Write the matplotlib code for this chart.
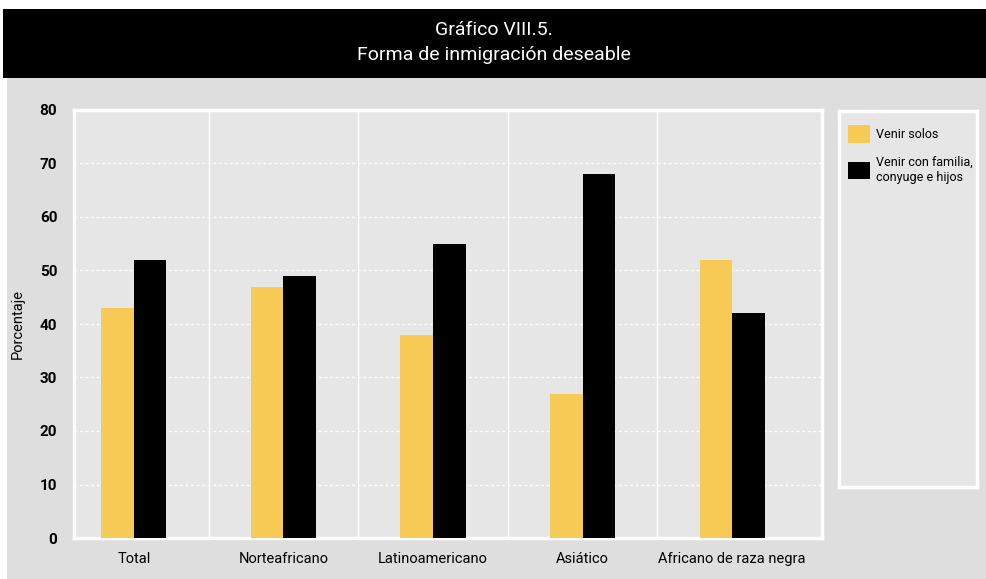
import matplotlib
matplotlib.use("Agg")
import matplotlib.pyplot as plt
from matplotlib.patches import Rectangle
import numpy as np

plt.rcParams['font.family'] = ['Roboto', 'DejaVu Sans']

categories = ["Total", "Norteafricano", "Latinoamericano", "Asiático", "Africano de raza negra"]
venir_solos = [43, 47, 38, 27, 52]
venir_familia = [52, 49, 55, 68, 42]
series_labels = ["Venir solos", "Venir con familia,\nconyuge e hijos"]
yticks = [0, 10, 20, 30, 40, 50, 60, 70, 80]
title_lines = ["Gráfico VIII.5.", "Forma de inmigración deseable"]
ylabel = "Porcentaje"

W, H = 987, 579
fig = plt.figure(figsize=(W / 100, H / 100), dpi=100)
fig.patch.set_facecolor("white")

def fx(px):
    return px / W

def fy(py):
    return 1 - py / H

# gray panel background
fig.patches.append(Rectangle((fx(7), 0), 1 - fx(7), fy(78), transform=fig.transFigure,
                             facecolor="#dedede", edgecolor="none", zorder=-5))
# black title band
fig.patches.append(Rectangle((fx(3), fy(78)), 1 - fx(3), fy(9) - fy(78), transform=fig.transFigure,
                             facecolor="black", edgecolor="none", zorder=-5))
fig.text(0.5, fy(30), title_lines[0], color="white", ha="center", va="center", fontsize=14)
fig.text(0.5, fy(55), title_lines[1], color="white", ha="center", va="center", fontsize=14)

ax = fig.add_axes([fx(74), fy(538), fx(822) - fx(74), fy(110) - fy(538)])
ax.set_facecolor("#e6e6e6")
x = np.arange(len(categories))
bw = 0.218
b1 = ax.bar(x - bw / 2, venir_solos, width=bw, color="#f6ca55", label=series_labels[0], zorder=3)
b2 = ax.bar(x + bw / 2, venir_familia, width=bw, color="black", label=series_labels[1], zorder=3)
ax.set_xlim(-0.40, len(categories) - 0.40)
ax.set_ylim(0, 80)
ax.set_yticks(yticks)
ax.set_yticklabels([str(t) for t in yticks], fontsize=11, fontweight="bold")
ax.set_xticks(x)
ax.set_xticklabels(categories, fontsize=10.5)
ax.tick_params(axis="both", length=0)
ax.tick_params(axis="y", pad=12)
ax.tick_params(axis="x", pad=10)
for t in yticks[1:-1]:
    ax.axhline(t, color="white", linestyle=(0, (2, 2)), linewidth=1, zorder=1)
for xv in x[:-1] + 0.5:
    ax.axvline(xv, color="white", linewidth=1.0, zorder=1)
for s in ax.spines.values():
    s.set_color("white")
    s.set_linewidth(2.5)
ax.set_ylabel(ylabel, fontsize=10.5)
ax.yaxis.set_label_coords(-(74 - 25) / (822 - 74), 0.5)

# legend panel
lax = fig.add_axes([fx(839), fy(487), fx(977) - fx(839), fy(111) - fy(487)])
lax.set_facecolor("#e6e6e6")
lax.set_xticks([])
lax.set_yticks([])
for s in lax.spines.values():
    s.set_color("white")
    s.set_linewidth(2.5)
leg = lax.legend(handles=[b1, b2], labels=series_labels, loc="upper left",
                 bbox_to_anchor=(0.0, 0.985), frameon=False, fontsize=9,
                 handlelength=1.8, handleheight=1.8, handletextpad=0.5,
                 labelspacing=1.0, borderaxespad=0.3)

fig.savefig("out.png", dpi=100, facecolor=fig.get_facecolor())
